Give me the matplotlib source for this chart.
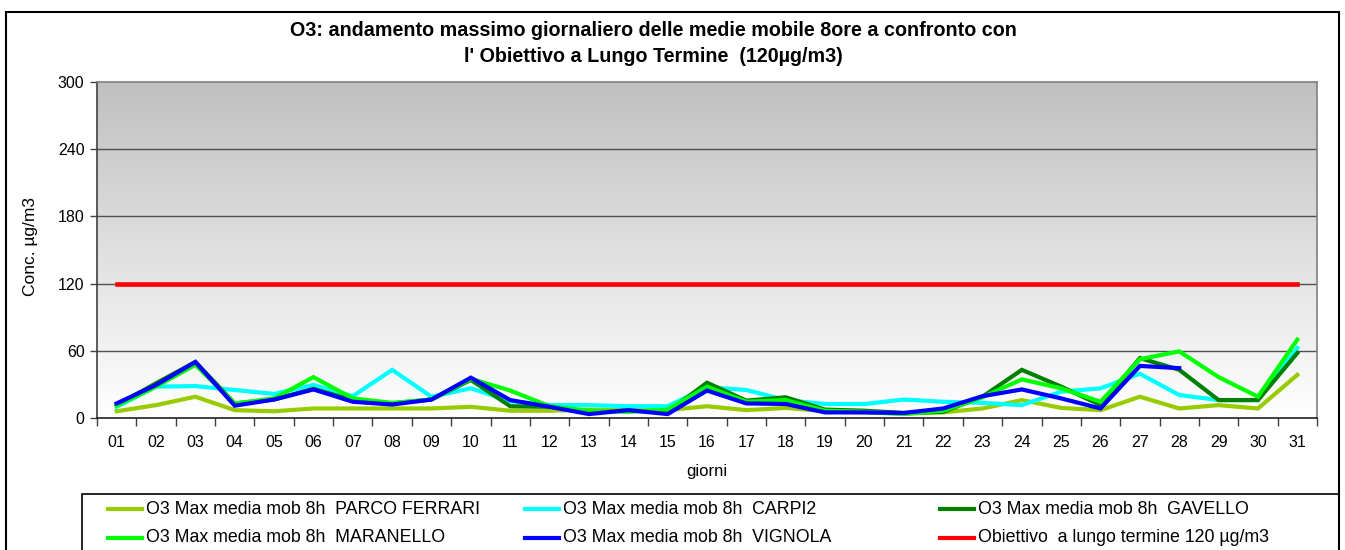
import numpy as np
import matplotlib
matplotlib.use('Agg')
import matplotlib.pyplot as plt
from matplotlib.lines import Line2D
from matplotlib.patches import Rectangle

plt.rcParams['font.family'] = ['Liberation Sans', 'DejaVu Sans']

# giorni del mese
giorni = ['%02d' % d for d in range(1, 32)]

parco_ferrari = [6, 11.5, 19, 7, 6, 8.5, 8.5, 8.5, 8.5, 10, 6.5, 6.5, 7.5, 7, 7, 10.5,
                 7, 9, 6, 5, 4, 5, 8.5, 16, 9, 7, 19, 8.5, 11.5, 8.5, 38.5]
carpi2 = [10, 28, 28.5, 25, 21.5, 29.5, 19.5, 43, 19, 26.5, 15, 11.5, 11.5, 10.5, 10.5, 27.5,
          25, 16, 12.5, 12.5, 16.5, 14.5, 13.5, 11.5, 23.5, 26.5, 39.5, 20.5, 16, 16, 62.5]
gavello = [11.5, 31, 50, 13, 16.5, 26, 16, 13, 16.5, 34, 10.5, 10, 5.5, 6.5, 5.5, 31.5,
           15.5, 18.5, 7.5, 6.5, 4.5, 5.5, 19, 43, 28, 11.5, 53.5, 43, 16, 16, 58]
maranello = [11, 28, 47.5, 13, 17.5, 36.5, 17.5, 13.5, 16.5, 35, 24.5, 10.5, 6.5, 5.5, 7.5, 28,
             14.5, 16, 6.5, 5.5, 3.5, 6.5, 18.5, 34.5, 26.5, 14.5, 52.5, 59.5, 36.5, 19, 70]
vignola = [13, 29.5, 50, 11, 16.5, 25.5, 14.5, 12, 16.5, 36, 16, 10, 3.5, 7, 3.5, 24.5,
           13, 12.5, 5, 5, 4.5, 8.5, 19.5, 25.5, 17.5, 8.5, 46.5, 44.5, np.nan, np.nan, np.nan]
obiettivo = [120] * 31

serie = [
    ('O3 Max media mob 8h  PARCO FERRARI', parco_ferrari, '#99cc00', 3),
    ('O3 Max media mob 8h  CARPI2', carpi2, '#00ffff', 3),
    ('O3 Max media mob 8h  GAVELLO', gavello, '#008000', 3),
    ('O3 Max media mob 8h  MARANELLO', maranello, '#00ff00', 3),
    ('O3 Max media mob 8h  VIGNOLA', vignola, '#0000ff', 3),
    ('Obiettivo  a lungo termine 120 µg/m3', obiettivo, '#ff0000', 3.3),
]

W, H = 1345, 550
fig = plt.figure(figsize=(W / 100, H / 100), dpi=100)
ax = fig.add_axes([97 / W, (H - 418) / H, (1317 - 97) / W, (418 - 82) / H])

x = np.arange(len(giorni))

# sfondo sfumato grigio -> bianco
grad = np.linspace(1, 0, 256).reshape(-1, 1)
cmap = matplotlib.colors.LinearSegmentedColormap.from_list('g', ['#ffffff', '#c0c0c0'])
ax.imshow(grad, cmap=cmap, aspect='auto', extent=[0, 1, 0, 1], transform=ax.transAxes, zorder=0)

for yv in [60, 120, 180, 240]:
    ax.axhline(yv, color='#505050', lw=1, zorder=1)

for nome, vals, col, lw in serie:
    ax.plot(x, vals, color=col, lw=lw, solid_joinstyle='miter', zorder=3)

ax.set_xlim(-0.5, len(giorni) - 0.5)
ax.set_ylim(0, 300)
ax.set_yticks([0, 60, 120, 180, 240, 300])
ax.set_xticks(x)
ax.set_xticklabels(giorni)
ax.set_xticks(np.arange(-0.5, len(giorni), 1), minor=True)
ax.tick_params(axis='x', which='major', length=0, pad=12, labelsize=11.5)
ax.tick_params(axis='x', which='minor', length=6, width=1, color='#404040')
ax.tick_params(axis='y', length=5, width=1, color='#404040', labelsize=11.5, pad=4)
ax.spines['left'].set_color('#404040')
ax.spines['bottom'].set_color('#202020')
ax.spines['top'].set_color('#808080')
ax.spines['right'].set_color('#808080')
for s in ax.spines.values():
    s.set_linewidth(1.2)

ax.set_xlabel('giorni', fontsize=12, labelpad=10)
fig.text(30 / W, 1 - 246 / H, 'Conc. µg/m3', rotation=90, ha='center', va='center', fontsize=12.5)

fig.text(653 / W, 1 - 30 / H, 'O3: andamento massimo giornaliero delle medie mobile 8ore a confronto con',
         ha='center', va='center', fontsize=14.2, fontweight='bold')
fig.text(653 / W, 1 - 56 / H, "l' Obiettivo a Lungo Termine  (120µg/m3)",
         ha='center', va='center', fontsize=14.2, fontweight='bold')

# bordo dell'area grafico
fig.add_artist(Rectangle((6 / W, -0.05), (1339 - 6) / W, 1.05 - 12 / H, transform=fig.transFigure,
                         fill=False, edgecolor='black', lw=1.5))

# legenda
fig.add_artist(Rectangle((82 / W, -0.05), (1339 - 82) / W, 0.05 + (H - 494) / H, transform=fig.transFigure,
                         fill=False, edgecolor='black', lw=1.2))
col_x = [108, 525, 940]
row_y = [509, 538]
ordine = [(0, 0), (0, 1), (0, 2), (1, 0), (1, 1), (1, 2)]
for (r, c), (nome, vals, col, lw) in zip(ordine, serie):
    xx = col_x[c]
    yy = 1 - row_y[r] / H
    fig.add_artist(Line2D([xx / W, (xx + 34) / W], [yy, yy], transform=fig.transFigure, color=col, lw=3))
    fig.text((xx + 38) / W, yy, nome, ha='left', va='center', fontsize=12.8)

fig.savefig('out.png', dpi=100)
